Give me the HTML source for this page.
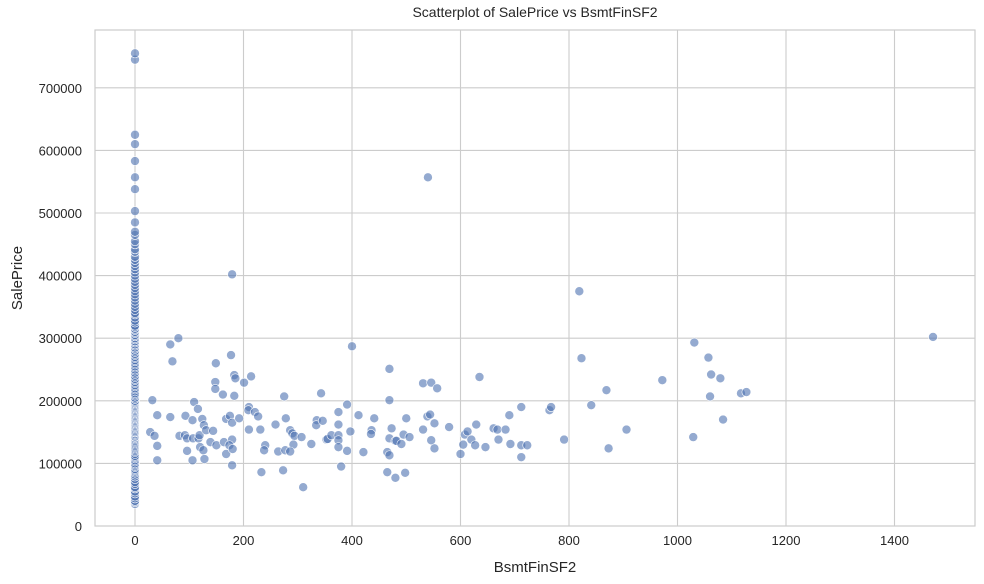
<!DOCTYPE html>
<html><head><meta charset="utf-8"><style>
html,body{margin:0;padding:0;background:#fff;}
svg{display:block;font-family:"Liberation Sans","DejaVu Sans",sans-serif;}
</style></head><body>
<svg id="chart" width="984" height="584" viewBox="0 0 984 584"></svg>
<script>
const xTicks=[0,200,400,600,800,1000,1200,1400];
const yTicks=[0,100000,200000,300000,400000,500000,600000,700000];
const zeroPrices=[35,38,40,44,47,52,55,60,62,67,70,75,79,82,85,87,89,91,94,96,98,100,103,105,108,110,112,115,118,120,122,124,126,128,130,132,134,136,138,140,142,143,145,147,149,150,152,154,156,158,160,162,164,166,168,170,172,174,176,178,180,182,184,186,188,190,192,194,196,198,200,203,205,208,210,212,215,218,220,223,225,228,230,233,235,238,240,243,245,248,250,253,255,258,260,263,265,268,270,273,275,278,280,283,285,288,290,293,295,298,300,303,305,308,310,313,315,318,320,325,328,333,338,340,345,350,355,360,365,370,375,380,385,390,395,400,405,410,415,420,425,430,438,442,450,455,465,470,485,503,538,557,583,610,625,745,755];
const bsmtValues=[32,41,28,36,41,41,65,80,69,65,82,93,92,96,96,106,109,116,106,107,117,119,124,127,131,120,126,128,139,144,150,149,148,148,162,164,168,168,175,179,179,174,180,179,179,177,183,185,183,192,201,214,210,209,221,227,210,231,240,238,233,259,275,278,273,264,277,286,290,294,292,286,307,310,325,343,335,334,346,353,355,362,375,375,375,375,375,380,391,397,391,400,412,421,436,435,441,469,469,473,469,480,482,491,495,506,500,465,469,465,480,498,531,546,557,539,544,552,531,546,552,579,600,605,608,613,620,627,629,635,646,661,668,670,683,690,692,712,712,723,712,764,767,791,819,823,841,869,873,906,972,1029,1031,1057,1060,1062,1079,1084,1117,1127,1471,540];
const salePrices=[201,177,150,144,128,105,290,300,263,174,144,176,145,140,120,105,198,187,169,140,140,145,171,161,153,126,121,107,134,152,129,260,230,219,210,134,171,115,176,165,138,129,123,97,402,273,241,236,208,172,229,239,190,185,182,175,154,154,129,121,86,162,207,172,89,119,121,153,148,144,130,119,142,62,131,212,169,161,168,138,139,145,182,162,145,137,126,95,194,151,120,287,177,118,153,147,172,251,201,156,140,136,136,131,146,142,172,118,113,86,77,85,228,229,220,175,178,164,154,137,124,158,115,130,146,151,138,129,162,238,126,156,154,138,154,177,131,190,129,129,110,185,190,138,375,268,193,217,124,154,233,142,293,269,207,242,236,170,212,214,302,557];
const svg=document.getElementById('chart');
const NS='http://www.w3.org/2000/svg';
const L=95,R=975,T=30,B=526;
const xS=v=>135+v*0.5425;
const yS=v=>526-v*0.000626;
function mk(tag,attrs,parent){const e=document.createElementNS(NS,tag);for(const k in attrs)e.setAttribute(k,attrs[k]);(parent||svg).appendChild(e);return e;}
const grid=mk('g',{});


xTicks.forEach(t=>{
  const x=xS(t);
  const ln=mk('line',{x1:x,x2:x,y1:T,y2:B,stroke:'#cccccc','stroke-width':1.1},grid);
  
  
  const tx=mk('text',{x:x,y:B+19,'text-anchor':'middle','font-size':13,fill:'#262626'});
  tx.textContent=t;
  
  
});
yTicks.forEach(t=>{
  const y=yS(t);
  const ln=mk('line',{x1:L,x2:R,y1:y,y2:y,stroke:'#cccccc','stroke-width':1.1},grid);
  
  
  const tx=mk('text',{x:L-13,y:y+5,'text-anchor':'end','font-size':13,fill:'#262626'});
  tx.textContent=t;
  
  
});
const frame=mk('rect',{x:L,y:T,width:R-L,height:B-T,fill:'none',stroke:'#cccccc','stroke-width':1.2});


const pts=mk('g',{});


zeroPrices.forEach(p=>{
  const c=mk('circle',{cx:xS(0),cy:yS(p*1000),r:4.5,fill:'rgba(76,114,176,0.6)',stroke:'#ffffff','stroke-width':0.6},pts);
  
  
});
bsmtValues.forEach((v,i)=>{
  const c=mk('circle',{cx:xS(v),cy:yS(salePrices[i]*1000),r:4.5,fill:'rgba(76,114,176,0.6)',stroke:'#ffffff','stroke-width':0.6},pts);
  
  
});
const title=mk('text',{x:535,y:17,'text-anchor':'middle','font-size':14,fill:'#262626'});
title.textContent='Scatterplot of SalePrice vs BsmtFinSF2';


const xl=mk('text',{x:535,y:572,'text-anchor':'middle','font-size':15,fill:'#262626'});
xl.textContent='BsmtFinSF2';


const yl=mk('text',{x:0,y:0,'text-anchor':'middle','font-size':15,fill:'#262626',transform:'translate(22,278) rotate(-90)'});
yl.textContent='SalePrice';


</script>
</body></html>
